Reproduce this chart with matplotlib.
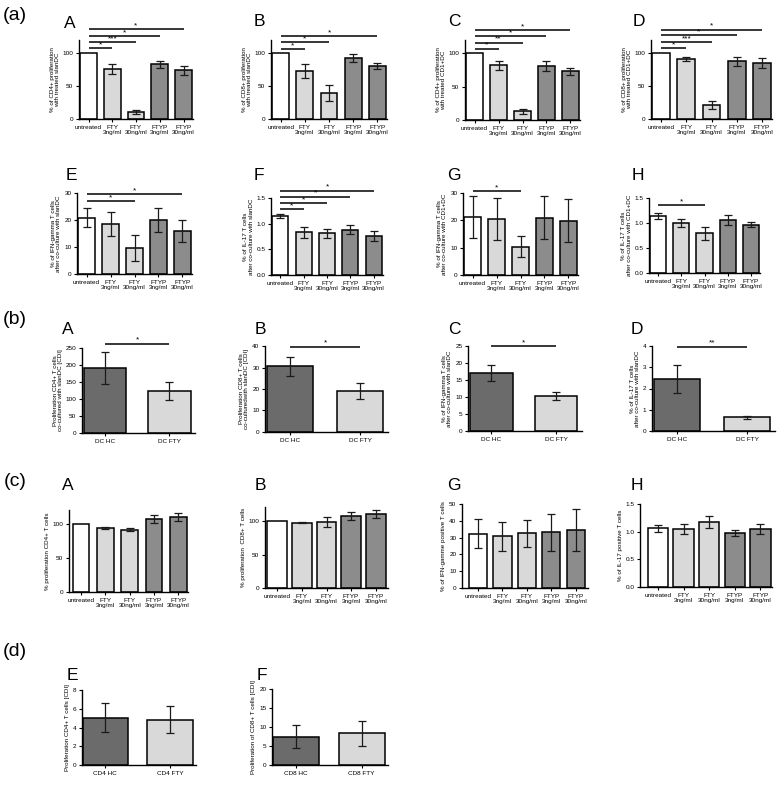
import matplotlib
matplotlib.use('Agg')
import matplotlib.pyplot as plt
import numpy as np

plt.rcParams['font.family'] = ['Liberation Sans', 'DejaVu Sans']

W, H = 778, 792
fig = plt.figure(figsize=(W / 100, H / 100), dpi=100)

WHITE, LIGHT, MID, DARK = '#ffffff', '#d9d9d9', '#8c8c8c', '#6b6b6b'

# ---------------- data ----------------
conds = ['untreated', 'FTY\n3ng/ml', 'FTY\n30ng/ml', 'FTYP\n3ng/ml', 'FTYP\n30ng/ml']
cond_colors = [WHITE, LIGHT, LIGHT, MID, MID]

aA_vals = [100, 76, 10, 83, 74]
aA_errs = [0, 8, 3, 5, 7]
aB_vals = [100, 73, 40, 93, 80]
aB_errs = [0, 11, 12, 6, 4.5]
aC_vals = [100, 82, 13, 81, 73]
aC_errs = [0, 7, 4, 8, 5.5]
aD_vals = [100, 91.5, 21.5, 87.5, 85]
aD_errs = [0, 3, 6.5, 6.5, 7]
aE_vals = [20.9, 18.4, 9.6, 20.0, 16.0]
aE_errs = [3.6, 4.5, 4.7, 4.3, 4.0]
aF_vals = [1.155, 0.83, 0.815, 0.88, 0.76]
aF_errs = [0.04, 0.1, 0.09, 0.09, 0.1]
aG_vals = [21.3, 20.6, 10.4, 21.0, 19.9]
aG_errs = [7.6, 7.7, 3.8, 8.0, 7.9]
aH_vals = [1.145, 1.0, 0.795, 1.06, 0.97]
aH_errs = [0.055, 0.08, 0.13, 0.1, 0.055]

dc_groups = ['DC HC', 'DC FTY']
dc_colors = [DARK, LIGHT]
bA_vals = [191, 124]
bA_errs = [46, 26]
bB_vals = [30.6, 19.2]
bB_errs = [4.5, 3.7]
bC_vals = [17.0, 10.3]
bC_errs = [2.3, 1.2]
bD_vals = [2.45, 0.64]
bD_errs = [0.67, 0.06]

cA_vals = [100, 94, 91, 107, 110]
cA_errs = [0, 1.5, 2, 5.5, 5.5]
cB_vals = [100, 97.5, 99, 107, 110.5]
cB_errs = [0, 1, 7.5, 6, 5.5]
cG_vals = [32.2, 30.8, 32.6, 33.2, 34.7]
cG_errs = [8.6, 8.6, 7.9, 11.0, 12.6]
cH_vals = [1.06, 1.045, 1.175, 0.975, 1.045]
cH_errs = [0.065, 0.09, 0.1, 0.05, 0.09]

dE_groups = ['CD4 HC', 'CD4 FTY']
dE_vals = [5.05, 4.85]
dE_errs = [1.55, 1.45]
dF_groups = ['CD8 HC', 'CD8 FTY']
dF_vals = [7.5, 8.3]
dF_errs = [3.0, 3.4]

# significance: (from index, to index, y level, label)
aA_sig = [(0, 1, 108, '*'), (0, 2, 117, '***'), (0, 3, 126, '*'), (0, 4, 136, '*')]
aB_sig = [(0, 1, 106, '*'), (0, 2, 116.5, '*'), (0, 4, 126, '*')]
aC_sig = [(0, 1, 107, '*'), (0, 2, 116, '**'), (0, 3, 126, '*'), (0, 4, 135, '*')]
aD_sig = [(0, 1, 107.5, '*'), (0, 2, 116.5, '***'), (0, 3, 127.5, '*'), (0, 4, 135.5, '*')]
aE_sig = [(0, 2, 26.9, '*'), (0, 4, 29.6, '*')]
aF_sig = [(0, 1, 1.285, '*'), (0, 2, 1.40, '*'), (0, 3, 1.525, '*'), (0, 4, 1.645, '*')]
aG_sig = [(0, 2, 30.6, '*')]
aH_sig = [(0, 2, 1.355, '*')]
bA_sig = [(0, 1, 263, '*')]
bB_sig = [(0, 1, 39.7, '*')]
bC_sig = [(0, 1, 25, '*')]
bD_sig = [(0, 1, 3.97, '**')]


def add_ax(x0, ytop, x1, ybot):
    return fig.add_axes([x0 / W, 1 - ybot / H, (x1 - x0) / W, (ybot - ytop) / H])


def panel(box, cats, vals, errs, colors, ylim, yticks, yfmt, ylabel,
          sigs=(), xlim=(-0.4, 4.4), width=0.7):
    ax = add_ax(*box)
    x = np.arange(len(cats))
    ax.bar(x, vals, width=width, color=colors, edgecolor='black',
           linewidth=1.1, zorder=2)
    ex = [i for i in x if errs[i] > 0]
    ax.errorbar(ex, [vals[i] for i in ex], yerr=[errs[i] for i in ex],
                fmt='none', ecolor='#1a1a1a', elinewidth=0.9, capsize=3,
                capthick=0.9, zorder=3)
    ax.set_xlim(*xlim)
    ax.set_ylim(*ylim)
    ax.set_yticks(yticks)
    ax.set_yticklabels([yfmt.format(t) for t in yticks])
    ax.set_xticks(x)
    ax.set_xticklabels(cats, linespacing=1.0)
    for s in ['top', 'right']:
        ax.spines[s].set_visible(False)
    for s in ['left', 'bottom']:
        ax.spines[s].set_linewidth(1.0)
    ax.tick_params(axis='both', length=2.5, width=0.8, labelsize=4.6, pad=1.5)
    ax.set_ylabel(ylabel, fontsize=4.5, linespacing=1.05, labelpad=2)
    for i, j, y, t in sigs:
        ax.plot([i, j], [y, y], color='black', lw=1.1, clip_on=False,
                solid_capstyle='butt')
        ax.text((i + j) / 2, y, t, ha='center', va='bottom', fontsize=6,
                clip_on=False)
    return ax


def letter(x, y, t, size=12.5):
    fig.text(x / W, 1 - y / H, t, ha='center', va='center', fontsize=size)


pct = list(range(0, 101, 50))
ratio = [0.0, 0.5, 1.0, 1.5]

# ---------------- row (a) top ----------------
panel((79, 40, 193, 119), conds, aA_vals, aA_errs, cond_colors, (0, 120), pct, '{}',
      '% of CD4+ proliferation\nwith treated slanDC', aA_sig)
panel((271, 40, 387, 119), conds, aB_vals, aB_errs, cond_colors, (0, 120), pct, '{}',
      '% of CD8+ proliferation\nwith treated slanDC', aB_sig)
panel((465, 40, 580, 120), conds, aC_vals, aC_errs, cond_colors, (0, 120), pct, '{}',
      '% of CD4+ proliferation\nwith treated CD1+DC', aC_sig)
panel((651, 40, 772, 119), conds, aD_vals, aD_errs, cond_colors, (0, 120), pct, '{}',
      '% of CD8+ proliferation\nwith treated CD1+DC', aD_sig)

# ---------------- row (a) bottom ----------------
panel((77, 193, 192, 274), conds, aE_vals, aE_errs, cond_colors, (0, 30), [0, 10, 20, 30], '{}',
      '% of IFN-gamma T cells\nafter co-culture with slanDC', aE_sig)
panel((271, 198, 383, 275), conds, aF_vals, aF_errs, cond_colors, (0, 1.5), ratio, '{:.1f}',
      '% of IL-17 T cells\nafter co-culture with slanDC', aF_sig)
panel((463, 193, 578, 275), conds, aG_vals, aG_errs, cond_colors, (0, 30), [0, 10, 20, 30], '{}',
      '% of IFN-gamma T cells\nafter co-culture with CD1+DC', aG_sig)
panel((649, 198, 760, 273), conds, aH_vals, aH_errs, cond_colors, (0, 1.5), ratio, '{:.1f}',
      '% of IL-17 T cells\nafter co-culture with CD1+DC', aH_sig)

# ---------------- row (b) ----------------
xl2 = (-0.36, 1.4)
panel((82, 348, 195, 433), dc_groups, bA_vals, bA_errs, dc_colors, (0, 250), list(range(0, 251, 50)), '{}',
      'Proliferation CD4+ T cells\nco-cultured with slanDC [CDI]', bA_sig, xlim=xl2, width=0.66)
panel((265, 346, 388, 432), dc_groups, bB_vals, bB_errs, dc_colors, (0, 40), list(range(0, 41, 10)), '{}',
      'Proliferation CD8+ T cells\nco-culturedwith slanDC [CDI]', bB_sig, xlim=xl2, width=0.66)
panel((468, 346, 582, 431), dc_groups, bC_vals, bC_errs, dc_colors, (0, 25), list(range(0, 26, 5)), '{}',
      '% of IFN-gamma T cells\nafter co-culture with slanDC', bC_sig, xlim=xl2, width=0.66)
panel((652, 346, 775, 431), dc_groups, bD_vals, bD_errs, dc_colors, (0, 4), list(range(0, 5)), '{}',
      '% of IL-17 T cells\nafter co-culture with slanDC', bD_sig, xlim=xl2, width=0.66)

# ---------------- row (c) ----------------
panel((69, 510, 188, 592), conds, cA_vals, cA_errs, cond_colors, (0, 120), pct, '{}',
      '% proliferation CD4+ T cells', xlim=(-0.5, 4.4), width=0.68)
panel((265, 507, 388, 588), conds, cB_vals, cB_errs, cond_colors, (0, 121), pct, '{}',
      '% proliferation  CD8+ T cells', xlim=(-0.5, 4.5), width=0.8)
panel((462, 504, 588, 588), conds, cG_vals, cG_errs, cond_colors, (0, 50), list(range(0, 51, 10)), '{}',
      '% of IFN-gamme positive T cells', xlim=(-0.65, 4.5), width=0.75)
panel((640, 504, 772, 587), conds, cH_vals, cH_errs, cond_colors, (0, 1.5), ratio, '{:.1f}',
      '% of IL-17 positive T cells', xlim=(-0.7, 4.45), width=0.8)

# ---------------- row (d) ----------------
panel((82, 690, 196, 765), dE_groups, dE_vals, dE_errs, dc_colors, (0, 8), [0, 2, 4, 6, 8], '{}',
      'Proliferation CD4+ T cells [CDI]', xlim=(-0.36, 1.4), width=0.7)
panel((272, 689, 388, 765), dF_groups, dF_vals, dF_errs, dc_colors, (0, 20), [0, 5, 10, 15, 20], '{}',
      'Proliferation of CD8+ T cells [CDI]', xlim=(-0.36, 1.4), width=0.7)

# ---------------- letters ----------------
letter(15, 16, '(a)', 14)
letter(70, 24, 'A'); letter(259, 21, 'B'); letter(454, 21, 'C'); letter(639, 21, 'D')
letter(71, 176, 'E'); letter(259, 175, 'F'); letter(454, 176, 'G'); letter(638, 175, 'H')
letter(15, 320, '(b)', 14)
letter(68, 329, 'A'); letter(260, 329, 'B'); letter(454, 329, 'C'); letter(637, 329, 'D')
letter(15, 481, '(c)', 14)
letter(68, 485, 'A'); letter(260, 485, 'B'); letter(454, 485, 'G'); letter(637, 485, 'H')
letter(15, 652, '(d)', 14)
letter(72, 676, 'E'); letter(262, 676, 'F')

fig.savefig('out.png', dpi=100)
